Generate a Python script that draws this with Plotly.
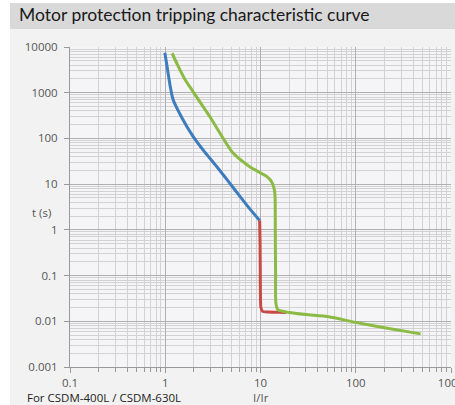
import plotly.graph_objects as go

# Data
blue_x = [0.99, 1.05, 1.12, 1.21, 1.5, 1.95, 2.6, 3.43, 4.6, 6.0, 7.8, 9.8]
blue_y = [7500, 3500, 1500, 700, 280, 112, 50, 25, 11.5, 5.6, 2.8, 1.6]

red_x = [9.8, 9.9, 9.95, 10.0, 10.1, 10.5, 12, 15, 18.6]
red_y = [1.6, 0.5, 0.1, 0.03, 0.02, 0.0165, 0.016, 0.0158, 0.0155]

green_x = [1.18, 1.35, 1.6, 1.95, 3.0, 5.1, 7.5, 9.8, 11.5, 12.9, 13.8, 14.2, 14.3, 14.4, 14.5, 15.2, 20, 30, 52, 96, 200, 480]
green_y = [7300, 4000, 2000, 1070, 280, 49, 25, 18, 15, 11.8, 8.5, 5.6, 1.0, 0.1, 0.025, 0.018, 0.0155, 0.014, 0.0126, 0.0096, 0.0072, 0.0053]

x_ticks = [0.1, 1, 10, 100, 1000]
x_tick_text = ["0.1", "1", "10", "100", "1000"]
y_ticks = [0.001, 0.01, 0.1, 1, 10, 100, 1000, 10000]
y_tick_text = ["0.001", "0.01", "0.1", "1", "10", "100", "1000", "10000"]

W, H = 455, 405
ML, MR, MT, MB = 70, 4, 47, 38
PW, PH = W - ML - MR, H - MT - MB


def px(xp):
    return (xp - ML) / PW


def py(yp):
    return (H - MB - yp) / PH


fig = go.Figure()
fig.add_trace(go.Scatter(x=blue_x, y=blue_y, mode="lines",
                         line=dict(color="#3d7cbf", width=3, shape="spline", smoothing=0.6)))
fig.add_trace(go.Scatter(x=red_x, y=red_y, mode="lines",
                         line=dict(color="#c94a45", width=3, shape="spline", smoothing=0.6)))
fig.add_trace(go.Scatter(x=green_x, y=green_y, mode="lines",
                         line=dict(color="#8cbb45", width=3, shape="spline", smoothing=0.6)))

axis_font = dict(family="Open Sans, sans-serif", size=11.5, color="#555555")
grid_major = "#b0b0b0"
grid_minor = "#d2d2d2"

fig.update_xaxes(type="log", range=[-1, 3], tickvals=x_ticks, ticktext=x_tick_text,
                 showgrid=True, gridcolor=grid_major, gridwidth=1,
                 ticks="outside", ticklen=5, tickcolor="#999999",
                 showline=True, linecolor="#999999",
                 minor=dict(dtick="D1", showgrid=True, gridcolor=grid_minor, gridwidth=1,
                            ticks="outside", ticklen=4, tickcolor="#999999"),
                 ticklabeloverflow="allow", automargin=False,
                 tickfont=axis_font, zeroline=False)
fig.update_yaxes(type="log", range=[-3, 4], tickvals=y_ticks, ticktext=y_tick_text,
                 showgrid=True, gridcolor=grid_major, gridwidth=1,
                 ticks="outside", ticklen=5, tickcolor="#999999",
                 showline=True, linecolor="#999999",
                 minor=dict(dtick="D1", showgrid=True, gridcolor=grid_minor, gridwidth=1),
                 ticklabelstandoff=4, automargin=False,
                 tickfont=axis_font, zeroline=False)

fig.update_layout(
    width=W, height=H,
    margin=dict(l=ML, r=MR, t=MT, b=MB),
    paper_bgcolor="#f2f2f2",
    plot_bgcolor="#f5f5f7",
    showlegend=False,
    shapes=[
        dict(type="rect", xref="paper", yref="paper", layer="below",
             x0=px(0), x1=px(10), y0=py(H), y1=py(0),
             fillcolor="#ffffff", line=dict(width=0)),
        dict(type="rect", xref="paper", yref="paper", layer="below",
             x0=px(0), x1=px(W), y0=py(3), y1=py(0),
             fillcolor="#ffffff", line=dict(width=0)),
        dict(type="rect", xref="paper", yref="paper", layer="below",
             x0=px(10), x1=px(W), y0=py(29), y1=py(3),
             fillcolor="#d9d9d9", line=dict(width=0)),
    ],
    annotations=[
        dict(text="Motor protection tripping characteristic curve", xref="paper", yref="paper",
             x=px(17), y=py(15), xanchor="left", yanchor="middle", showarrow=False,
             font=dict(family="Lato, sans-serif", size=17.5, color="#1a1a1a")),
        dict(text="t (s)", xref="paper", yref="y", x=px(41), y=0.39, xanchor="center",
             yanchor="middle", showarrow=False, font=axis_font),
        dict(text="I/Ir", xref="x", yref="paper", x=1, y=py(397), xanchor="center",
             yanchor="middle", showarrow=False, font=axis_font),
        dict(text="For CSDM-400L / CSDM-630L", xref="paper", yref="paper", x=px(25),
             y=py(397), xanchor="left", yanchor="middle", showarrow=False,
             font=dict(family="Open Sans, sans-serif", size=11.5, color="#222222")),
    ],
)

fig.write_html("out.html", config={"displayModeBar": False, "responsive": False},
               post_script=("document.documentElement.style.overflow='hidden';"
                            "document.body.style.overflow='hidden';"
                            "document.body.style.margin='0';"))
